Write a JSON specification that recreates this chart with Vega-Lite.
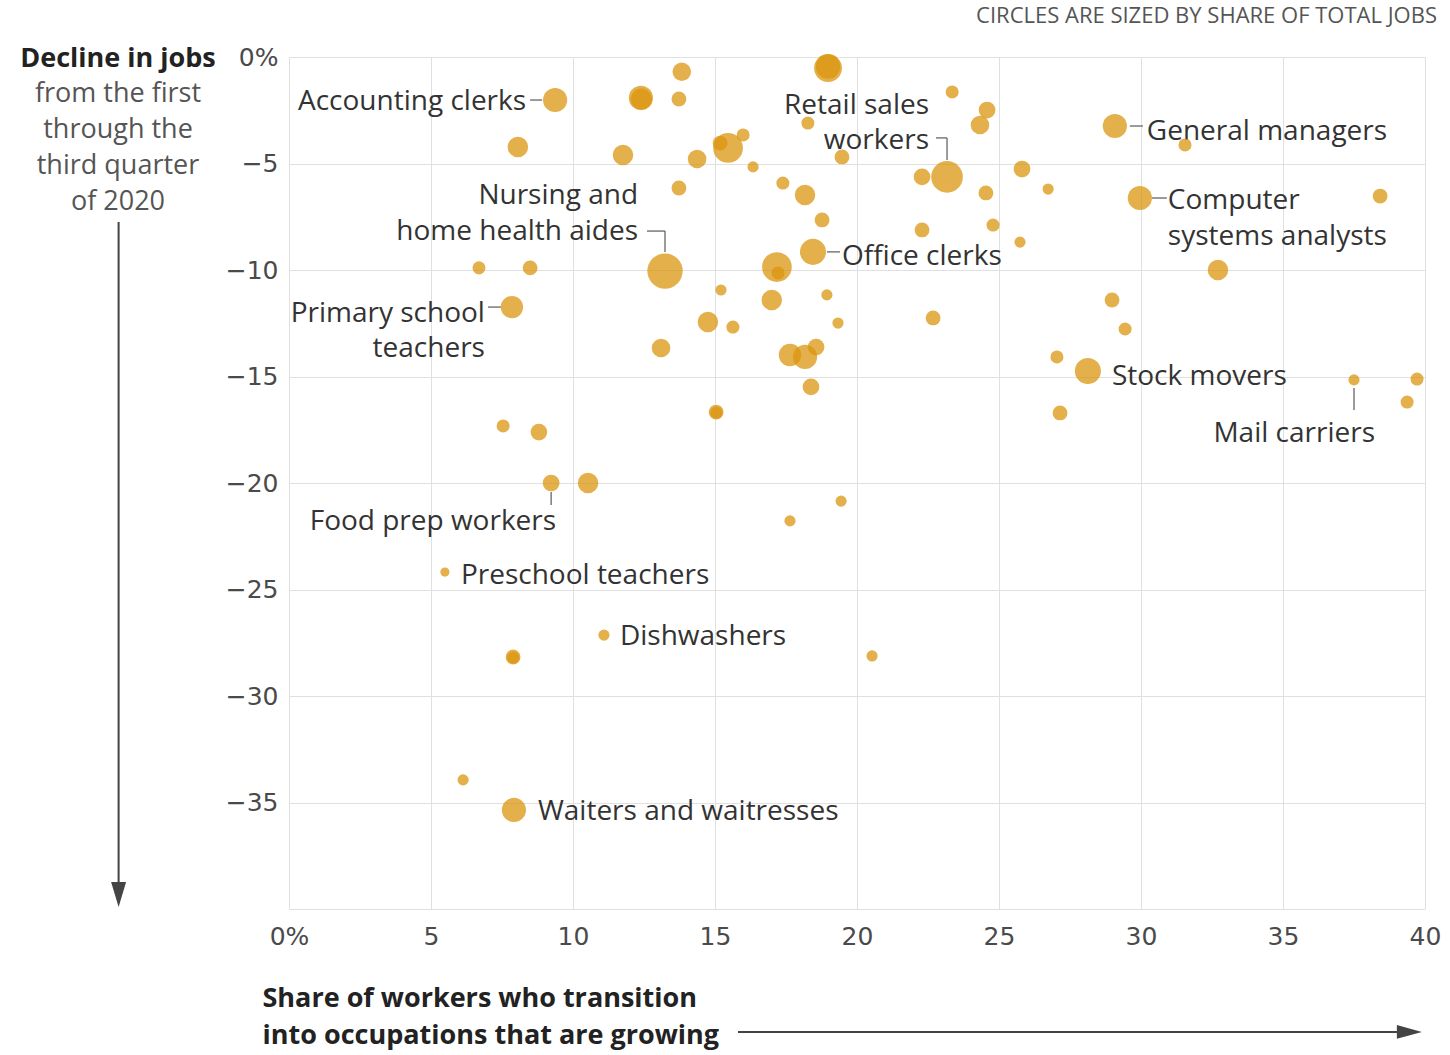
{
  "$schema": "https://vega.github.io/schema/vega-lite/v6.json",
  "width": 1136,
  "height": 852,
  "autosize": {"type": "none"},
  "padding": {"left": 289, "top": 57, "right": 25, "bottom": 146},
  "background": "white",
  "config": {"view": {"stroke": null}, "font": "Open Sans"},
  "title": {
    "text": "Decline in jobs",
    "subtitle": ["from the first", "through the", "third quarter", "of 2020"],
    "frame": "group",
    "anchor": "start",
    "align": "center",
    "dx": -171,
    "dy": 211,
    "offset": 0,
    "font": "Open Sans",
    "fontSize": 27,
    "fontWeight": "bold",
    "color": "#222222",
    "subtitleFont": "Open Sans",
    "subtitleFontSize": 27,
    "subtitleColor": "#555555",
    "subtitleLineHeight": 36,
    "subtitlePadding": 8
  },
  "data": {
    "values": [
      {"x": 13.83, "y": -0.69, "share": 0.69},
      {"x": 9.37, "y": -2.02, "share": 1.17, "occ": "Accounting clerks"},
      {"x": 12.39, "y": -1.92, "share": 1.17},
      {"x": 12.41, "y": -1.98, "share": 0.9},
      {"x": 13.73, "y": -1.97, "share": 0.44},
      {"x": 8.06, "y": -4.23, "share": 0.84},
      {"x": 11.76, "y": -4.6, "share": 0.84},
      {"x": 14.37, "y": -4.79, "share": 0.69},
      {"x": 15.46, "y": -4.27, "share": 1.77},
      {"x": 15.18, "y": -4.04, "share": 0.44},
      {"x": 15.99, "y": -3.66, "share": 0.34},
      {"x": 16.34, "y": -5.16, "share": 0.25},
      {"x": 13.73, "y": -6.15, "share": 0.44},
      {"x": 13.24, "y": -10.05, "share": 2.5, "occ": "Nursing and\nhome health aides"},
      {"x": 6.69, "y": -9.9, "share": 0.34},
      {"x": 8.49, "y": -9.9, "share": 0.44},
      {"x": 15.21, "y": -10.94, "share": 0.25},
      {"x": 7.85, "y": -11.74, "share": 1.0, "occ": "Primary school\nteachers"},
      {"x": 14.75, "y": -12.44, "share": 0.84},
      {"x": 18.98, "y": -0.52, "share": 1.56},
      {"x": 18.98, "y": -0.45, "share": 1.2},
      {"x": 23.35, "y": -1.64, "share": 0.34},
      {"x": 24.58, "y": -2.49, "share": 0.56},
      {"x": 24.33, "y": -3.19, "share": 0.69},
      {"x": 23.17, "y": -5.63, "share": 2.0, "occ": "Retail sales\nworkers"},
      {"x": 22.29, "y": -5.63, "share": 0.56},
      {"x": 18.27, "y": -3.1, "share": 0.34},
      {"x": 19.47, "y": -4.69, "share": 0.44},
      {"x": 17.39, "y": -5.92, "share": 0.34},
      {"x": 18.17, "y": -6.48, "share": 0.84},
      {"x": 18.77, "y": -7.65, "share": 0.44},
      {"x": 18.45, "y": -9.15, "share": 1.36, "occ": "Office clerks"},
      {"x": 17.18, "y": -9.86, "share": 1.77},
      {"x": 17.22, "y": -10.14, "share": 0.34},
      {"x": 22.29, "y": -8.12, "share": 0.44},
      {"x": 24.54, "y": -6.38, "share": 0.44},
      {"x": 24.79, "y": -7.89, "share": 0.34},
      {"x": 25.74, "y": -8.69, "share": 0.25},
      {"x": 25.81, "y": -5.26, "share": 0.56},
      {"x": 26.73, "y": -6.2, "share": 0.25},
      {"x": 29.08, "y": -3.24, "share": 1.17, "occ": "General managers"},
      {"x": 29.96, "y": -6.62, "share": 1.17, "occ": "Computer\nsystems analysts"},
      {"x": 17.0, "y": -11.41, "share": 0.84},
      {"x": 18.94, "y": -11.17, "share": 0.25},
      {"x": 15.63, "y": -12.68, "share": 0.34},
      {"x": 19.33, "y": -12.49, "share": 0.25},
      {"x": 22.68, "y": -12.25, "share": 0.44},
      {"x": 28.98, "y": -11.41, "share": 0.44},
      {"x": 29.44, "y": -12.77, "share": 0.34},
      {"x": 31.55, "y": -4.13, "share": 0.34},
      {"x": 38.42, "y": -6.53, "share": 0.44},
      {"x": 32.71, "y": -10.0, "share": 0.84},
      {"x": 27.04, "y": -14.08, "share": 0.34},
      {"x": 28.13, "y": -14.74, "share": 1.36, "occ": "Stock movers"},
      {"x": 27.15, "y": -16.71, "share": 0.44},
      {"x": 37.5, "y": -15.16, "share": 0.25, "occ": "Mail carriers"},
      {"x": 39.72, "y": -15.12, "share": 0.34},
      {"x": 39.37, "y": -16.2, "share": 0.34},
      {"x": 13.1, "y": -13.66, "share": 0.69},
      {"x": 17.64, "y": -13.99, "share": 1.0},
      {"x": 18.17, "y": -14.08, "share": 1.17},
      {"x": 18.56, "y": -13.62, "share": 0.56},
      {"x": 18.38, "y": -15.49, "share": 0.56},
      {"x": 15.04, "y": -16.67, "share": 0.44},
      {"x": 15.05, "y": -16.7, "share": 0.3},
      {"x": 7.54, "y": -17.32, "share": 0.34},
      {"x": 8.8, "y": -17.61, "share": 0.56},
      {"x": 9.23, "y": -20.0, "share": 0.56, "occ": "Food prep workers"},
      {"x": 10.53, "y": -20.0, "share": 0.84},
      {"x": 19.44, "y": -20.85, "share": 0.25},
      {"x": 17.64, "y": -21.78, "share": 0.25},
      {"x": 5.49, "y": -24.18, "share": 0.17, "occ": "Preschool teachers"},
      {"x": 11.09, "y": -27.14, "share": 0.25, "occ": "Dishwashers"},
      {"x": 7.89, "y": -28.17, "share": 0.44},
      {"x": 7.9, "y": -28.2, "share": 0.3},
      {"x": 20.53, "y": -28.12, "share": 0.25},
      {"x": 6.13, "y": -33.94, "share": 0.25},
      {"x": 7.92, "y": -35.35, "share": 1.17, "occ": "Waiters and waitresses"}
    ]
  },
  "layer": [
    {
      "encoding": {
        "x": {
          "field": "x",
          "type": "quantitative",
          "scale": {"domain": [0, 40], "nice": false, "zero": false},
          "axis": {
            "values": [0, 5, 10, 15, 20, 25, 30, 35, 40],
            "labelExpr": "datum.value == 0 ? '0%' : datum.label",
            "labelFlush": false,
            "ticks": false,
            "domain": false,
            "grid": true,
            "gridColor": "#e0e0e0",
            "gridWidth": 1,
            "labelFont": "DejaVu Sans",
            "labelFontSize": 25,
            "labelColor": "#4a4a4a",
            "labelPadding": 15,
            "title": ["Share of workers who transition", "into occupations that are growing"],
            "titleFont": "Open Sans",
            "titleFontSize": 27,
            "titleFontWeight": "bold",
            "titleColor": "#222222",
            "titleAnchor": "start",
            "titleAlign": "left",
            "titleBaseline": "top",
            "titleX": -27,
            "titleY": 76,
            "titleLineHeight": 37
          }
        },
        "y": {
          "field": "y",
          "type": "quantitative",
          "scale": {"domain": [-40, 0], "nice": false, "zero": false},
          "axis": {
            "values": [0, -5, -10, -15, -20, -25, -30, -35, -40],
            "labelExpr": "datum.value == 0 ? '0%' : (datum.value == -40 ? '' : '\u2212' + format(-datum.value, 'd'))",
            "labelFlush": false,
            "ticks": false,
            "domain": false,
            "grid": true,
            "gridColor": "#e0e0e0",
            "gridWidth": 1,
            "labelFont": "DejaVu Sans",
            "labelFontSize": 25,
            "labelColor": "#4a4a4a",
            "labelPadding": 11,
            "title": null
          }
        }
      },
      "layer": [
        {"transform": [{"filter": {"field": "occ", "equal": "Accounting clerks"}}], "mark": {"type": "text", "align": "right", "baseline": "alphabetic", "dx": -29, "dy": 10, "fontSize": 28, "color": "#333333", "font": "Open Sans"}, "encoding": {"text": {"field": "occ", "type": "nominal"}}},
        {"transform": [{"filter": {"field": "occ", "equal": "Nursing and\nhome health aides"}}], "mark": {"type": "text", "align": "right", "baseline": "alphabetic", "dx": -27, "dy": -67, "lineBreak": "\n", "lineHeight": 36, "fontSize": 28, "color": "#333333", "font": "Open Sans"}, "encoding": {"text": {"field": "occ", "type": "nominal"}}},
        {"transform": [{"filter": {"field": "occ", "equal": "Retail sales\nworkers"}}], "mark": {"type": "text", "align": "right", "baseline": "alphabetic", "dx": -18, "dy": -63, "lineBreak": "\n", "lineHeight": 35, "fontSize": 28, "color": "#333333", "font": "Open Sans"}, "encoding": {"text": {"field": "occ", "type": "nominal"}}},
        {"transform": [{"filter": {"field": "occ", "equal": "General managers"}}], "mark": {"type": "text", "align": "left", "baseline": "alphabetic", "dx": 32, "dy": 14, "fontSize": 28, "color": "#333333", "font": "Open Sans"}, "encoding": {"text": {"field": "occ", "type": "nominal"}}},
        {"transform": [{"filter": {"field": "occ", "equal": "Computer\nsystems analysts"}}], "mark": {"type": "text", "align": "left", "baseline": "alphabetic", "dx": 28, "dy": 11, "lineBreak": "\n", "lineHeight": 36, "fontSize": 28, "color": "#333333", "font": "Open Sans"}, "encoding": {"text": {"field": "occ", "type": "nominal"}}},
        {"transform": [{"filter": {"field": "occ", "equal": "Office clerks"}}], "mark": {"type": "text", "align": "left", "baseline": "alphabetic", "dx": 29, "dy": 13, "fontSize": 28, "color": "#333333", "font": "Open Sans"}, "encoding": {"text": {"field": "occ", "type": "nominal"}}},
        {"transform": [{"filter": {"field": "occ", "equal": "Primary school\nteachers"}}], "mark": {"type": "text", "align": "right", "baseline": "alphabetic", "dx": -27, "dy": 15, "lineBreak": "\n", "lineHeight": 35, "fontSize": 28, "color": "#333333", "font": "Open Sans"}, "encoding": {"text": {"field": "occ", "type": "nominal"}}},
        {"transform": [{"filter": {"field": "occ", "equal": "Stock movers"}}], "mark": {"type": "text", "align": "left", "baseline": "alphabetic", "dx": 24, "dy": 14, "fontSize": 28, "color": "#333333", "font": "Open Sans"}, "encoding": {"text": {"field": "occ", "type": "nominal"}}},
        {"transform": [{"filter": {"field": "occ", "equal": "Mail carriers"}}], "mark": {"type": "text", "align": "right", "baseline": "alphabetic", "dx": 21, "dy": 62, "fontSize": 28, "color": "#333333", "font": "Open Sans"}, "encoding": {"text": {"field": "occ", "type": "nominal"}}},
        {"transform": [{"filter": {"field": "occ", "equal": "Food prep workers"}}], "mark": {"type": "text", "align": "right", "baseline": "alphabetic", "dx": 5, "dy": 47, "fontSize": 28, "color": "#333333", "font": "Open Sans"}, "encoding": {"text": {"field": "occ", "type": "nominal"}}},
        {"transform": [{"filter": {"field": "occ", "equal": "Preschool teachers"}}], "mark": {"type": "text", "align": "left", "baseline": "alphabetic", "dx": 16, "dy": 12, "fontSize": 28, "color": "#333333", "font": "Open Sans"}, "encoding": {"text": {"field": "occ", "type": "nominal"}}},
        {"transform": [{"filter": {"field": "occ", "equal": "Dishwashers"}}], "mark": {"type": "text", "align": "left", "baseline": "alphabetic", "dx": 16, "dy": 10, "fontSize": 28, "color": "#333333", "font": "Open Sans"}, "encoding": {"text": {"field": "occ", "type": "nominal"}}},
        {"transform": [{"filter": {"field": "occ", "equal": "Waiters and waitresses"}}], "mark": {"type": "text", "align": "left", "baseline": "alphabetic", "dx": 24, "dy": 10, "fontSize": 28, "color": "#333333", "font": "Open Sans"}, "encoding": {"text": {"field": "occ", "type": "nominal"}}},
        {"transform": [{"filter": {"field": "occ", "equal": "Accounting clerks"}}], "mark": {"type": "rule", "xOffset": -25, "x2Offset": -13, "color": "#666666", "strokeWidth": 1.3}, "encoding": {"x2": {"field": "x"}}},
        {"transform": [{"filter": {"field": "occ", "equal": "General managers"}}], "mark": {"type": "rule", "xOffset": 15, "x2Offset": 28, "color": "#666666", "strokeWidth": 1.3}, "encoding": {"x2": {"field": "x"}}},
        {"transform": [{"filter": {"field": "occ", "equal": "Computer\nsystems analysts"}}], "mark": {"type": "rule", "xOffset": 12, "x2Offset": 27, "color": "#666666", "strokeWidth": 1.3}, "encoding": {"x2": {"field": "x"}}},
        {"transform": [{"filter": {"field": "occ", "equal": "Office clerks"}}], "mark": {"type": "rule", "xOffset": 14, "x2Offset": 27, "color": "#666666", "strokeWidth": 1.3}, "encoding": {"x2": {"field": "x"}}},
        {"transform": [{"filter": {"field": "occ", "equal": "Primary school\nteachers"}}], "mark": {"type": "rule", "xOffset": -24, "x2Offset": -11, "color": "#666666", "strokeWidth": 1.3}, "encoding": {"x2": {"field": "x"}}},
        {"transform": [{"filter": {"field": "occ", "equal": "Nursing and\nhome health aides"}}], "mark": {"type": "rule", "xOffset": -18, "x2Offset": 0, "yOffset": -40, "color": "#666666", "strokeWidth": 1.3}, "encoding": {"x2": {"field": "x"}}},
        {"transform": [{"filter": {"field": "occ", "equal": "Nursing and\nhome health aides"}}], "mark": {"type": "rule", "yOffset": -40, "y2Offset": -19, "color": "#666666", "strokeWidth": 1.3}, "encoding": {"y2": {"field": "y"}}},
        {"transform": [{"filter": {"field": "occ", "equal": "Retail sales\nworkers"}}], "mark": {"type": "rule", "xOffset": -11, "x2Offset": 0, "yOffset": -39, "color": "#666666", "strokeWidth": 1.3}, "encoding": {"x2": {"field": "x"}}},
        {"transform": [{"filter": {"field": "occ", "equal": "Retail sales\nworkers"}}], "mark": {"type": "rule", "yOffset": -39, "y2Offset": -17, "color": "#666666", "strokeWidth": 1.3}, "encoding": {"y2": {"field": "y"}}},
        {"transform": [{"filter": {"field": "occ", "equal": "Food prep workers"}}], "mark": {"type": "rule", "yOffset": 9, "y2Offset": 22, "color": "#666666", "strokeWidth": 1.3}, "encoding": {"y2": {"field": "y"}}},
        {"transform": [{"filter": {"field": "occ", "equal": "Mail carriers"}}], "mark": {"type": "rule", "yOffset": 8, "y2Offset": 30, "color": "#666666", "strokeWidth": 1.3}, "encoding": {"y2": {"field": "y"}}},
        {
          "mark": {"type": "circle", "color": "#DB960F", "opacity": 0.75},
          "encoding": {
            "size": {"field": "share", "type": "quantitative", "scale": {"type": "linear", "domain": [0, 2.5], "range": [0, 1250]}, "legend": null}
          }
        }
      ]
    },
    {
      "data": {"values": [{"note": "CIRCLES ARE SIZED BY SHARE OF TOTAL JOBS"}]},
      "mark": {"type": "text", "align": "right", "baseline": "alphabetic", "dx": 12, "dy": -34, "fontSize": 22, "color": "#555555", "font": "Open Sans"},
      "encoding": {"x": {"datum": 40}, "y": {"datum": 0}, "text": {"field": "note", "type": "nominal"}}
    },
    {
      "data": {"values": [{"arrow": "down"}]},
      "mark": {"type": "rule", "color": "#444444", "strokeWidth": 2},
      "encoding": {"x": {"datum": -6}, "y": {"datum": -7.75}, "y2": {"datum": -39.2}}
    },
    {
      "data": {"values": [{"arrow": "down"}]},
      "mark": {"type": "point", "shape": "M-0.6,-1L0.6,-1L0,1Z", "filled": true, "color": "#444444", "opacity": 1, "size": 625},
      "encoding": {"x": {"datum": -6}, "y": {"datum": -39.32}}
    },
    {
      "data": {"values": [{"arrow": "right"}]},
      "mark": {"type": "rule", "color": "#444444", "strokeWidth": 2},
      "encoding": {"x": {"datum": 15.81}, "x2": {"datum": 39.1}, "y": {"datum": -45.77}}
    },
    {
      "data": {"values": [{"arrow": "right"}]},
      "mark": {"type": "point", "shape": "M-1,-0.55L1,0L-1,0.55Z", "filled": true, "color": "#444444", "opacity": 1, "size": 625},
      "encoding": {"x": {"datum": 39.45}, "y": {"datum": -45.77}}
    }
  ]
}
